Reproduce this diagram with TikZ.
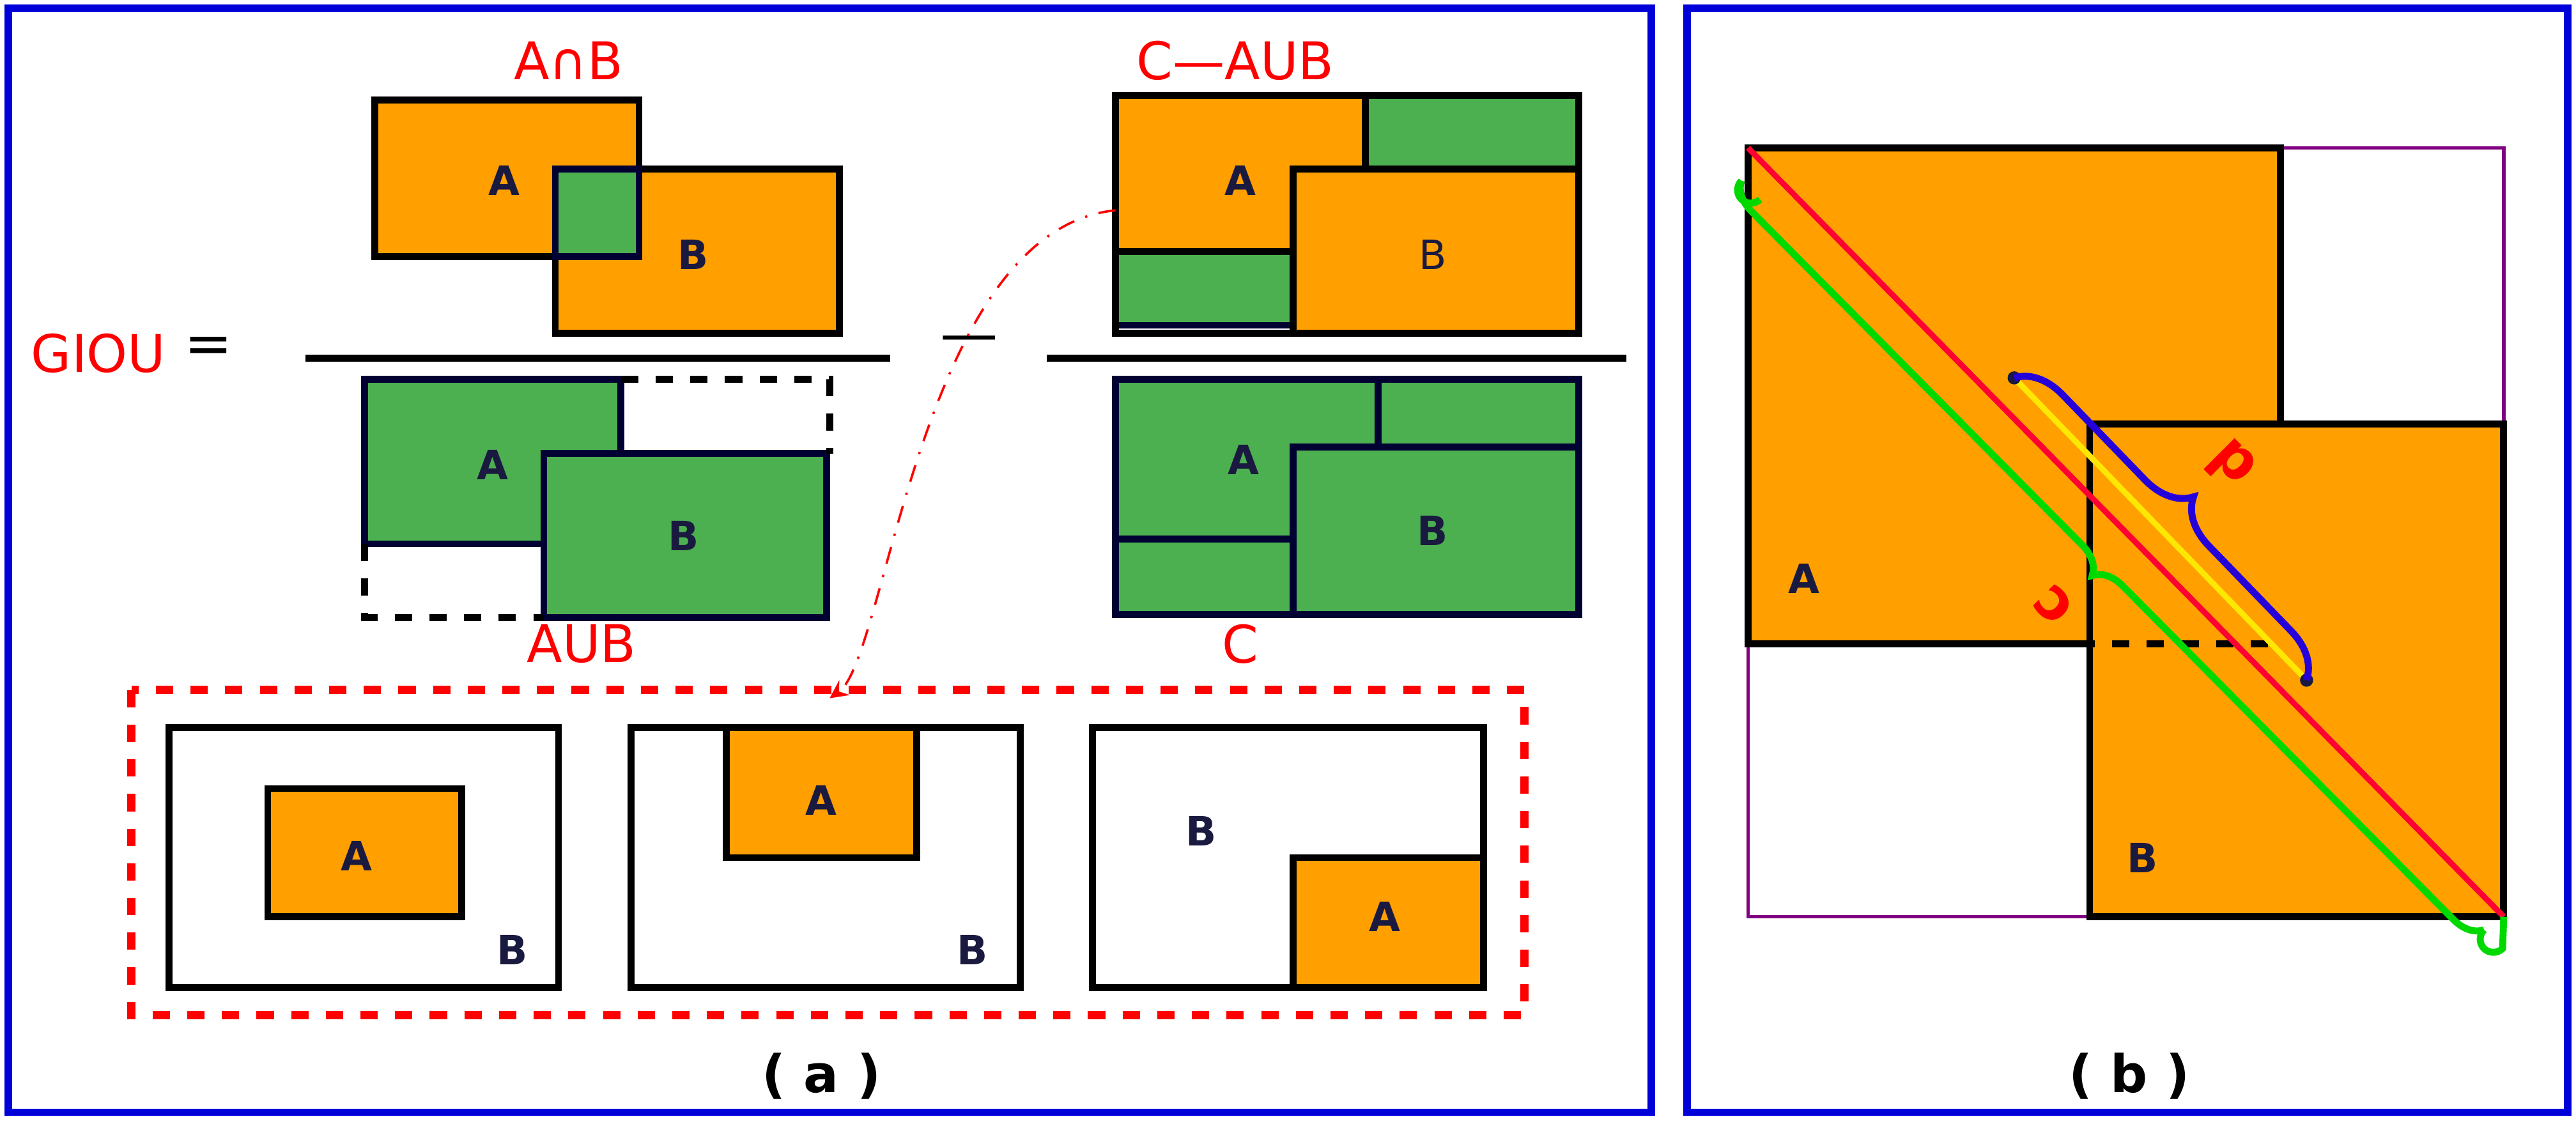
\documentclass[tikz,border=0pt]{standalone}
\usepackage{fontspec}
\setmainfont{DejaVu Sans}
\usetikzlibrary{decorations.pathreplacing}
\definecolor{boxorange}{HTML}{FF9F00}
\definecolor{boxgreen}{HTML}{4CAF50}
\definecolor{labnavy}{HTML}{1A1A40}
\begin{document}
\begin{tikzpicture}[x=0.1mm,y=-0.1mm,
  obox/.style={fill=boxorange,draw=black,line width=1.2pt},
  gbox/.style={fill=boxgreen,draw=black!80!blue,line width=1.2pt},
  wbox/.style={draw=black,line width=1.2pt},
  lab/.style={font=\bfseries\fontsize{7}{8}\selectfont,text=labnavy},
  rlab/.style={font=\fontsize{9}{10}\selectfont,text=red},
  frame/.style={draw=blue!85!black,line width=1.3pt}]

  \useasboundingbox (0,0) rectangle (1568,685);
  \draw[frame] (5,5) rectangle (1005,677);
  \draw[frame] (1027,5) rectangle (1563,677);

  % (a) first fraction
  \draw[obox] (228,61) rectangle (389,156);
  \draw[obox] (338,103) rectangle (511,203);
  \draw[gbox] (338,103) rectangle (389,156);
  \node[lab] (na1) at (307,110) {A};
  \node[lab] (nb1) at (422,155) {B};
  \node[rlab] (inter) at (346,37) {A∩B};
  \node[rlab] (giou) at (60,215) {GIOU};
  \node (eq) at (127,213) {=};
  \draw[line width=1.2pt] (186,218) -- (542,218);
  \draw[gbox] (222,231) rectangle (378,331);
  \draw[gbox] (331,276) rectangle (503,376);
  \draw[line width=1.2pt,dashed] (222,331) -- (222,376) -- (331,376)
    (378,231) -- (505,231) -- (505,276);
  \node[lab] (na2) at (300,283) {A};
  \node[lab] (nb2) at (416,326) {B};
  \node[rlab] (union) at (354,392) {AUB};
  \node (minus) at (590,210) {—};

  % (a) second fraction
  \draw[line width=1.2pt] (637,218) -- (990,218);
  \draw[gbox] (831,58) rectangle (961,103);
  \draw[gbox] (679,153) rectangle (787,198);
  \draw[obox] (679,58) rectangle (831,153);
  \draw[obox] (787,103) rectangle (961,203);
  \draw[wbox] (679,58) rectangle (961,203);
  \node[lab] (na3) at (755,110) {A};
  \node[font=\fontsize{7}{8}\selectfont,text=labnavy] (nb3) at (872,155) {B};
  \node[rlab] (cdiff) at (752,37) {C—AUB};
  \draw[gbox] (679,231) rectangle (961,374);
  \draw[gbox] (679,231) rectangle (839,328);
  \draw[gbox] (787,272) rectangle (961,374);
  \node[lab] (na4) at (757,280) {A};
  \node[lab] (nb4) at (872,323) {B};
  \node[rlab] (cbox) at (755,392) {C};

  % (a) enclosing cases
  \draw[red,dashed,line width=1.4pt] (80,420) rectangle (928,618);
  \coordinate (from) at (679,128);
  \coordinate (to) at (505,425);
  \draw[red,dash dot,->,>=stealth] (from) .. controls (560,140) and (540,400) .. (to);
  \draw[wbox] (103,443) rectangle (340,601);
  \draw[obox] (163,480) rectangle (281,558);
  \node[lab] (ca1) at (217,521) {A};
  \node[lab] (cb1) at (312,578) {B};
  \draw[wbox] (384,443) rectangle (621,601);
  \draw[obox] (442,443) rectangle (558,522);
  \node[lab] (ca2) at (500,487) {A};
  \node[lab] (cb2) at (592,578) {B};
  \draw[wbox] (665,443) rectangle (903,601);
  \draw[obox] (787,522) rectangle (903,601);
  \node[lab] (ca3) at (843,558) {A};
  \node[lab] (cb3) at (731,506) {B};
  \node[font=\bfseries\fontsize{9}{10}\selectfont] (capa) at (500,655) {( a )};

  % (b)
  \draw[violet,line width=0.6pt] (1064,90) rectangle (1524,558);
  \draw[obox] (1064,90) rectangle (1388,392);
  \draw[obox] (1272,258) rectangle (1524,558);
  \draw[line width=1.2pt,dashed] (1272,258) -- (1272,392) -- (1388,392);
  \node[lab] (bA) at (1098,352) {A};
  \node[lab] (bB) at (1304,522) {B};
  \coordinate (tl) at (1064,90);
  \coordinate (br) at (1524,558);
  \draw[red!80!magenta,line width=1pt] (tl) -- (br);
  \draw[green!85!black,line width=1.2pt,decorate,decoration={brace,mirror,amplitude=5pt}]
    (1060,110) -- (1512,566);
  \draw[green!85!black,line width=1.2pt] (1060,110) arc (225:45:8)
    (1512,566) arc (225:45:8) -- (1524,558);
  \coordinate (d1) at (1226,230);
  \coordinate (d2) at (1404,414);
  \draw[yellow!90!orange,line width=1pt] (d1) -- (d2);
  \fill[labnavy] (d1) circle (4) (d2) circle (4);
  \draw[blue!70!violet,line width=1.2pt,decorate,decoration={brace,amplitude=8pt}]
    (d1) -- (d2);
  \node[rlab,font=\bfseries\fontsize{10}{11}\selectfont,rotate=135] (dl) at (1358,283) {d};
  \node[rlab,font=\bfseries\fontsize{10}{11}\selectfont,rotate=135] (cl) at (1250,368) {c};
  \node[font=\bfseries\fontsize{9}{10}\selectfont] (capb) at (1296,655) {( b )};
\end{tikzpicture}
\end{document}
